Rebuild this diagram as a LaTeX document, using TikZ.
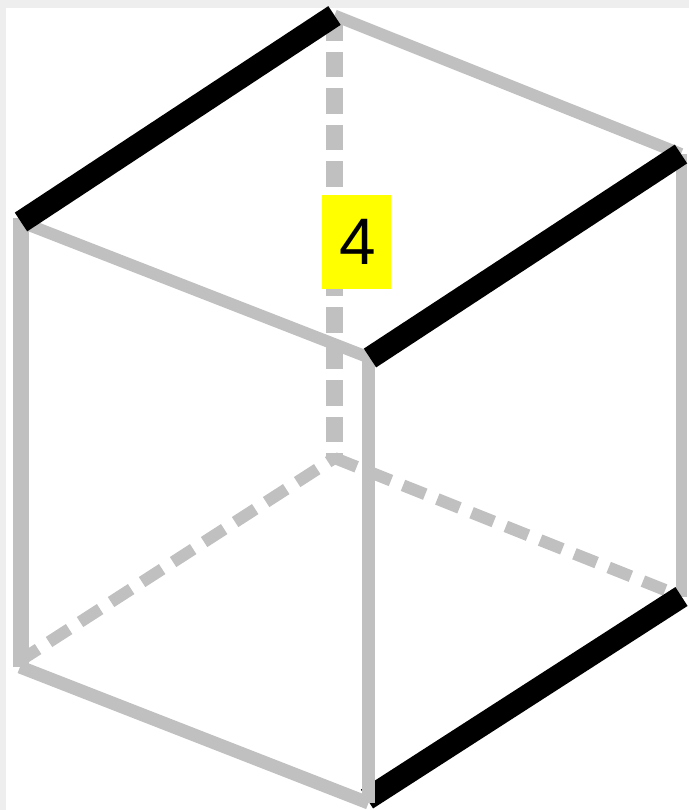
\documentclass[tikz,border=0pt]{standalone}
\usepackage{fontspec}
\setmainfont{Liberation Sans}
\definecolor{edgegray}{RGB}{192, 192, 192}
\definecolor{marginback}{RGB}{238, 238, 238}
\definecolor{numberyellow}{RGB}{255, 255, 0}
\tikzset{
  hidden/.style={draw=edgegray, line width=3.4pt, dash pattern=on 6.8pt off 3.7pt},
  hiddenup/.style={draw=edgegray, line width=4.7pt, dash pattern=on 7.25pt off 3.13pt},
  edge/.style={draw=edgegray, line width=3.4pt},
  marked/.style={draw=black, line width=6.4pt},
  numberbox/.style={fill=numberyellow, minimum width=0.69cm, minimum height=0.94cm, inner sep=0pt, font=\fontsize{18.7}{20}\selectfont}
}

\begin{document}
\begin{tikzpicture}
  \useasboundingbox (0, 0) rectangle (6.89, 8.10);
  % paper
  \fill[marginback] (0, 0) rectangle (6.89, 8.10);
  \fill[white] (0.06, 0) rectangle (6.89, 8.02);

  % Corners of the cube
  \coordinate (lefttop) at (0.21, 5.88);
  \coordinate (leftend) at (0.21, 5.92);
  \coordinate (backtop) at (3.345, 7.945);
  \coordinate (righttop) at (6.81, 6.56);
  \coordinate (fronttop) at (3.70, 4.52);
  \coordinate (leftlow) at (0.20, 1.43);
  \coordinate (leftdash) at (0.18, 1.48);
  \coordinate (backlow) at (3.345, 3.52);
  \coordinate (rightlow) at (6.815, 2.135);
  \coordinate (frontlow) at (3.685, 0.07);
  \coordinate (fronttip) at (3.67, 0.11);

  % Hidden edges
  \draw[hiddenup] (backtop) -- (backlow);
  \draw[hidden] (leftdash) -- (backlow);
  \draw[hidden] (backlow) -- (rightlow);

  % Number on the hidden edge
  \node[numberbox] (number) at (3.565, 5.68) {\hspace{1pt}4};

  % Bottom marked edge goes under the front edge
  \draw[edge] (righttop -| rightlow) -- (rightlow);
  \draw[marked] (fronttip) -- (rightlow);

  % Visible edges
  \draw[edge, line width=4.6pt] (leftend) -- (leftend |- leftlow);
  \draw[edge] (lefttop) -- (fronttop);
  \draw[edge] (backtop) -- (righttop);
  \draw[edge, line width=3.7pt] (fronttop -| frontlow) -- (frontlow);
  \draw[edge, line width=3.7pt] (leftlow) -- (frontlow);

  % Top marked edges
  \draw[marked] (lefttop) -- (backtop);
  \draw[marked] (fronttop) -- (righttop);
\end{tikzpicture}
\end{document}
